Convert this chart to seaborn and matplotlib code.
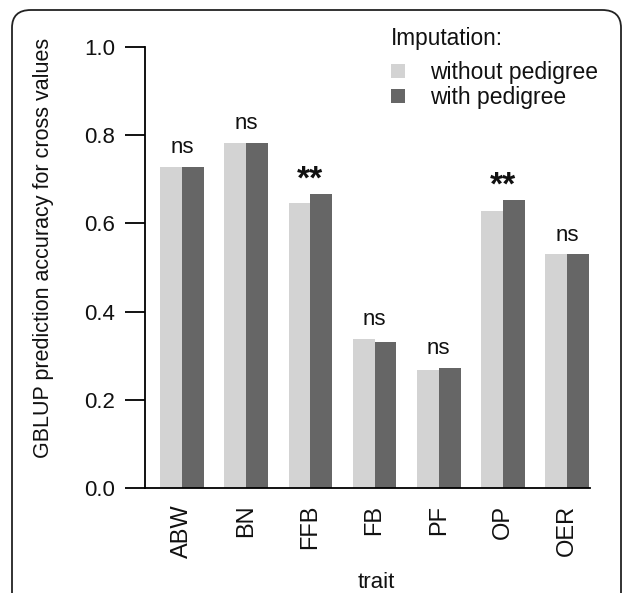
import matplotlib
matplotlib.use("Agg")
import matplotlib.pyplot as plt
from matplotlib.patches import FancyBboxPatch
import seaborn as sns
import pandas as pd

traits = ["ABW", "BN", "FFB", "FB", "PF", "OP", "OER"]
without_ped = [0.728, 0.782, 0.646, 0.339, 0.268, 0.629, 0.530]
with_ped = [0.728, 0.782, 0.666, 0.330, 0.273, 0.653, 0.530]
signif = ["ns", "ns", "**", "ns", "ns", "**", "ns"]
groups = ["without pedigree", "with pedigree"]
colors = ["#d3d3d3", "#666666"]

df = pd.DataFrame({
    "trait": traits * 2,
    "acc": without_ped + with_ped,
    "Imputation": [groups[0]] * len(traits) + [groups[1]] * len(traits),
})

sns.set_style("white")
plt.rcParams["font.family"] = ["Liberation Sans", "DejaVu Sans"]
for k in ["text.color", "axes.labelcolor", "xtick.color", "ytick.color"]:
    plt.rcParams[k] = "#111111"

W, H = 627, 593
fig = plt.figure(figsize=(W / 100, H / 100), dpi=100)
ax = fig.add_axes([145 / W, 1 - 488 / H, (590 - 145) / W, (488 - 47) / H])

sns.barplot(data=df, x="trait", y="acc", hue="Imputation", order=traits,
            hue_order=groups, palette=colors, width=0.68, gap=0,
            saturation=1, ax=ax, legend=True, linewidth=0, edgecolor="none")

ax.set_xlim(-0.576, 6.355)
ax.set_ylim(0, 1.0)
ax.set_yticks([0.0, 0.2, 0.4, 0.6, 0.8, 1.0])
ax.set_yticklabels(["0.0", "0.2", "0.4", "0.6", "0.8", "1.0"])

for s in ["top", "right"]:
    ax.spines[s].set_visible(False)
ax.spines["left"].set_bounds(0, 1.0)
ax.spines["left"].set_linewidth(1.3)
ax.spines["left"].set_color("black")
ax.spines["bottom"].set_linewidth(1.3)
ax.spines["bottom"].set_color("black")

ax.tick_params(axis="y", which="both", left=True, length=14.5, width=1.3,
               pad=7, labelsize=16, color="black")
ax.tick_params(axis="x", length=0, pad=12, labelsize=17)
for lab in ax.get_xticklabels():
    lab.set_rotation(90)

ax.set_ylabel("GBLUP prediction accuracy for cross values", fontsize=15.5)
ax.yaxis.set_label_coords(-0.205, 0.545)
ax.set_xlabel("trait", fontsize=16)
ax.xaxis.set_label_coords(0.52, -0.19)

for i, t in enumerate(traits):
    top = max(without_ped[i], with_ped[i])
    if signif[i] == "ns":
        ax.text(i, top + 0.031, "ns", ha="center", va="baseline", fontsize=16)
    else:
        ax.text(i, top + 0.012, "**", ha="center", va="baseline",
                fontsize=24, fontweight="bold")

leg = ax.legend(title="Imputation:", loc="upper left",
                bbox_to_anchor=(391 / W, 1 - 27 / H),
                bbox_transform=fig.transFigure, frameon=False,
                fontsize=16.5, title_fontsize=16.3, alignment="left",
                handlelength=0.6, handleheight=0.6, handletextpad=1.1,
                labelspacing=0.08, borderpad=0, borderaxespad=0)
leg._legend_box.sep = 8

frame = FancyBboxPatch((12 / W, -0.05), (621 - 12) / W, 1 - 10 / H + 0.05,
                       boxstyle="round,pad=0,rounding_size=0.03",
                       transform=fig.transFigure, fill=False,
                       edgecolor="#222222", linewidth=1.3, clip_on=False)
fig.patches.append(frame)

fig.savefig("out.png", dpi=100)
